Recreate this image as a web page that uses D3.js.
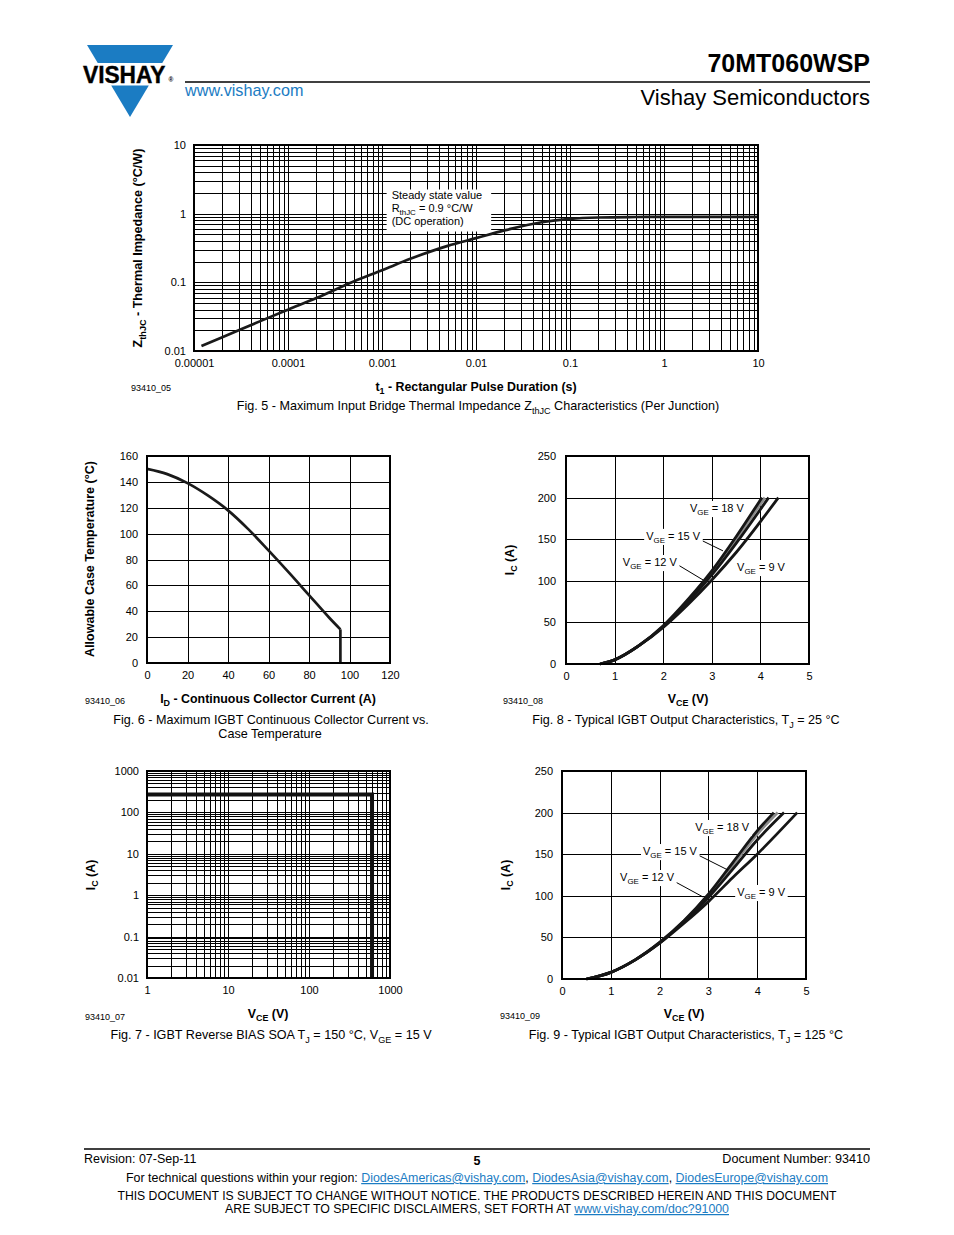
<!DOCTYPE html>
<html><head><meta charset="utf-8">
<script src="https://cdn.jsdelivr.net/npm/d3@7"></script>
<style>
body{margin:0;background:#fff}
svg{display:block;font-family:"Liberation Sans",Arial,Helvetica,sans-serif}
.grid line{stroke:#000;stroke-width:1;shape-rendering:crispEdges}
.grid path{display:none}
.ax path{display:none}
.ax text{font-size:11px;fill:#000;font-family:"Liberation Sans",Arial,sans-serif}
</style>
</head><body>
<svg id="page" width="954" height="1235"></svg>
<script>
// ---------------- DATA ----------------
// Fig 5 - thermal impedance
const fig5XTicks = [0.00001, 0.0001, 0.001, 0.01, 0.1, 1, 10];
const fig5XLabels = ["0.00001", "0.0001", "0.001", "0.01", "0.1", "1", "10"];
const fig5YTicks = [0.01, 0.1, 1, 10];
const fig5YLabels = ["0.01", "0.1", "1", "10"];
const zthPulse = [1.2e-5, 2e-5, 5e-5, 1e-4, 2e-4, 5e-4, 1e-3, 2e-3, 5e-3, 1e-2, 2e-2, 5e-2, 0.1, 0.2, 0.5, 1, 10];
const zthValue = [0.0118, 0.0158, 0.027, 0.04, 0.059, 0.103, 0.15, 0.22, 0.34, 0.44, 0.57, 0.75, 0.84, 0.88, 0.895, 0.9, 0.9];

// Fig 6 - case temperature vs current
const fig6XTicks = [0, 20, 40, 60, 80, 100, 120];
const fig6YTicks = [0, 20, 40, 60, 80, 100, 120, 140, 160];
const fig6Current = [0, 10, 20, 30, 40, 50, 60, 70, 80, 90, 95.5, 95.5];
const fig6Temp = [150, 146, 139, 129.5, 118, 103.5, 87, 70, 52.5, 35, 26, 0];

// Fig 7 - RBSOA
const fig7XTicks = [1, 10, 100, 1000];
const fig7XLabels = ["1", "10", "100", "1000"];
const fig7YTicks = [0.01, 0.1, 1, 10, 100, 1000];
const fig7YLabels = ["0.01", "0.1", "1", "10", "100", "1000"];
const soaVce = [1, 600, 600];
const soaIc = [270, 270, 0.01];

// Fig 8 / Fig 9 - output characteristics
const outXTicks = [0, 1, 2, 3, 4, 5];
const outYTicks = [0, 50, 100, 150, 200, 250];
const vgeLabels = ["18", "15", "12", "9"];
const fig8Vce = [
  [0.7, 1, 1.5, 2, 2.5, 3, 3.5, 4.03],
  [0.7, 1, 1.5, 2, 2.5, 3, 3.5, 4.09],
  [0.7, 1, 1.5, 2, 2.5, 3, 3.5, 4.17],
  [0.7, 1, 1.5, 2, 2.5, 3, 3.5, 4.37]
];
const fig8Ic = [
  [0, 5, 22, 46, 77, 112, 153, 200],
  [0, 5, 22, 45, 76, 110, 150, 200],
  [0, 5, 22, 45, 74, 107, 145, 200],
  [0, 5, 22, 44, 71, 101, 134, 200]
];
const fig9Vce = [
  [0.5, 1, 1.5, 2, 2.5, 3, 3.5, 4, 4.34],
  [0.5, 1, 1.5, 2, 2.5, 3, 3.5, 4, 4.42],
  [0.5, 1, 1.5, 2, 2.5, 3, 3.5, 4, 4.55],
  [0.5, 1, 1.5, 2, 2.5, 3, 3.5, 4, 4.82]
];
const fig9Ic = [
  [0, 8, 23, 44, 70, 102, 140, 178, 200],
  [0, 8, 23, 44, 70, 101, 137, 174, 200],
  [0, 8, 23, 43, 69, 98, 132, 167, 200],
  [0, 8, 23, 43, 67, 93, 122, 150, 200]
];
const curveColors = ["#161616", "#8c8c8c", "#161616", "#161616"];
// label anchors (data units): [Vce, Ic]
const fig8LabelPos = [[2.55, 187.5], [1.65, 154], [1.17, 122.6], [3.52, 116.6]];
const fig8Leaders = [null, [2.74, 150, 3.23, 136], [2.28, 120, 2.82, 101], null];
const fig9LabelPos = [[2.73, 182.7], [1.66, 153.8], [1.19, 122.6], [3.59, 104.6]];
const fig9Leaders = [null, [2.79, 149, 3.40, 131], [2.25, 119, 2.89, 98.6], null];

// ---------------- HELPERS ----------------
const svg = d3.select("#page");
const BLUE = "#1b7cc3";
const CAP = 12.6;

function rich(g, x, y, parts, size, opts = {}) {
  const t = g.append("text").attr("x", x).attr("y", y)
    .attr("font-size", size).attr("fill", opts.fill || "#000")
    .attr("font-weight", opts.bold ? "bold" : "normal")
    .attr("text-anchor", opts.anchor || "start");
  if (opts.transform) t.attr("transform", opts.transform);
  let shifted = false;
  const sh = size * (opts.shift || 0.28);
  parts.forEach(p => {
    if (typeof p === "string") {
      const ts = t.append("tspan").text(p);
      if (shifted) { ts.attr("dy", -sh); shifted = false; }
    } else {
      const ts = t.append("tspan").text(p.sub).attr("font-size", size * 0.72);
      if (!shifted) { ts.attr("dy", sh); shifted = true; }
    }
  });
  return t;
}
function plain(g, x, y, str, size, opts = {}) { return rich(g, x, y, [str], size, opts); }

function logGrid(lo, hi) {
  const v = [];
  for (let e = Math.round(Math.log10(lo)); e < Math.round(Math.log10(hi)); e++)
    for (let m = 1; m <= 9; m++) v.push(m * Math.pow(10, e));
  v.push(hi);
  return v;
}

function frame(g, x, y) {
  const [x0, x1] = x.range(), [y0, y1] = y.range();
  g.append("rect").attr("x", x0).attr("y", y1).attr("width", x1 - x0).attr("height", y0 - y1)
    .attr("fill", "none").attr("stroke", "#000").attr("stroke-width", 2);
}

function grids(g, x, y, xv, yv) {
  const [x0, x1] = x.range(), [y0, y1] = y.range();
  g.append("g").attr("class", "grid").attr("transform", `translate(0,${y0})`)
    .call(d3.axisBottom(x).tickValues(xv).tickSize(-(y0 - y1)).tickFormat(""));
  g.append("g").attr("class", "grid").attr("transform", `translate(${x0},0)`)
    .call(d3.axisLeft(y).tickValues(yv).tickSize(-(x1 - x0)).tickFormat(""));
}

function axes(g, x, y, xt, xl, yt, yl, ypad) {
  const [x0] = x.range(), [y0] = y.range();
  g.append("g").attr("class", "ax").attr("transform", `translate(0,${y0})`)
    .call(d3.axisBottom(x).tickValues(xt).tickSize(0).tickPadding(8).tickFormat((d, i) => xl[i]));
  g.append("g").attr("class", "ax").attr("transform", `translate(${x0},0)`)
    .call(d3.axisLeft(y).tickValues(yt).tickSize(0).tickPadding(ypad).tickFormat((d, i) => yl[i]));
}

function labelBox(g, x, y, parts, size) {
  const gg = g.append("g");
  const t = rich(gg, x, y, parts, size);
  const b = t.node().getBBox();
  gg.insert("rect", "text").attr("x", b.x - 2).attr("y", b.y - 1)
    .attr("width", b.width + 4).attr("height", b.height + 1).attr("fill", "#fff");
}

// ---------------- HEADER ----------------
const hdr = svg.append("g");
const hw = yy => 43 * (1 - (yy - 45) / 72);
hdr.append("path").attr("fill", BLUE)
  .attr("d", `M87,45 L173,45 L${130 + hw(63)},63 L${130 - hw(63)},63 Z`);
hdr.append("path").attr("fill", BLUE)
  .attr("d", `M${130 - hw(85.5)},85.5 L${130 + hw(85.5)},85.5 L130,117 Z`);
plain(hdr, 83, 83, "VISHAY", 24, { bold: true }).attr("textLength", 82.5).attr("lengthAdjust", "spacingAndGlyphs")
  .attr("stroke", "#000").attr("stroke-width", 0.4);
plain(hdr, 168.5, 82, "®", 6.5, { bold: true });
hdr.append("line").attr("x1", 185).attr("x2", 870).attr("y1", 82).attr("y2", 82).attr("stroke", "#000").attr("stroke-width", 1.6);
plain(hdr, 185, 96, "www.vishay.com", 16.2, { fill: BLUE });
plain(hdr, 870, 72, "70MT060WSP", 25, { bold: true, anchor: "end" });
plain(hdr, 870, 105, "Vishay Semiconductors", 22, { anchor: "end" });

// ---------------- FIG 5 ----------------
{
  const g = svg.append("g");
  const x = d3.scaleLog().domain([1e-5, 10]).range([194, 758]);
  const y = d3.scaleLog().domain([0.01, 10]).range([351, 145]);
  grids(g, x, y, logGrid(1e-5, 10), logGrid(0.01, 10));
  // annotation box
  const bx = x(0.00112), by = y(2.25);
  g.append("rect").attr("x", bx).attr("y", by).attr("width", x(0.0145) - bx).attr("height", y(0.55) - by).attr("fill", "#fff");
  plain(g, bx + 5, by + 10, "Steady state value", 11);
  rich(g, bx + 5, by + 23, ["R", { sub: "thJC" }, " = 0.9 °C/W"], 11, { shift: 0.2 });
  plain(g, bx + 5, by + 36, "(DC operation)", 11);
  const line = d3.line().x((d, i) => x(zthPulse[i])).y(d => y(d)).curve(d3.curveMonotoneX);
  g.append("path").attr("d", line(zthValue)).attr("fill", "none").attr("stroke", "#1a1a1a").attr("stroke-width", 2.7);
  frame(g, x, y);
  axes(g, x, y, fig5XTicks, fig5XLabels, fig5YTicks, fig5YLabels, 8);
  rich(g, 142, 248, ["Z", { sub: "thJC" }, " - Thermal Impedance (°C/W)"], 12.6, { bold: true, anchor: "middle", transform: "rotate(-90,142,248)" });
  rich(g, 476, 391, ["t", { sub: "1" }, " - Rectangular Pulse Duration (s)"], 12.4, { bold: true, anchor: "middle" });
  plain(g, 131, 391, "93410_05", 9);
  rich(g, 478, 410, ["Fig. 5 - Maximum Input Bridge Thermal Impedance Z", { sub: "thJC" }, " Characteristics (Per Junction)"], CAP, { anchor: "middle" });
}

// ---------------- FIG 6 ----------------
{
  const g = svg.append("g");
  const x = d3.scaleLinear().domain([0, 120]).range([147, 390]);
  const y = d3.scaleLinear().domain([0, 160]).range([663, 456]);
  grids(g, x, y, fig6XTicks, fig6YTicks);
  const pts = fig6Current.map((c, i) => [c, fig6Temp[i]]);
  const curvePts = pts.slice(0, pts.length - 1);
  const line = d3.line().x(d => x(d[0])).y(d => y(d[1])).curve(d3.curveMonotoneX);
  g.append("path").attr("d", line(curvePts)).attr("fill", "none").attr("stroke", "#1a1a1a").attr("stroke-width", 2.7);
  g.append("path").attr("d", d3.line().x(d => x(d[0])).y(d => y(d[1]))(pts.slice(-2))).attr("fill", "none").attr("stroke", "#1a1a1a").attr("stroke-width", 2.7);
  frame(g, x, y);
  axes(g, x, y, fig6XTicks, fig6XTicks.map(String), fig6YTicks, fig6YTicks.map(String), 9);
  plain(g, 94, 559, "Allowable Case Temperature (°C)", 12.5, { bold: true, anchor: "middle", transform: "rotate(-90,94,559)" });
  rich(g, 268, 703, ["I", { sub: "D" }, " - Continuous Collector Current (A)"], 12.4, { bold: true, anchor: "middle" });
  plain(g, 85, 704, "93410_06", 9);
  plain(g, 271, 724, "Fig. 6 - Maximum IGBT Continuous Collector  Current vs.", CAP, { anchor: "middle" });
  plain(g, 270, 738, "Case Temperature", CAP, { anchor: "middle" });
}

// ---------------- FIG 7 ----------------
{
  const g = svg.append("g");
  const x = d3.scaleLog().domain([1, 1000]).range([147, 390]);
  const y = d3.scaleLog().domain([0.01, 1000]).range([978, 771]);
  grids(g, x, y, logGrid(1, 1000), logGrid(0.01, 1000));
  const line = d3.line().x((d, i) => x(soaVce[i])).y(d => y(d));
  g.append("path").attr("d", line(soaIc)).attr("fill", "none").attr("stroke", "#111").attr("stroke-width", 4);
  frame(g, x, y);
  axes(g, x, y, fig7XTicks, fig7XLabels, fig7YTicks, fig7YLabels, 8);
  rich(g, 95, 875, ["I", { sub: "C" }, " (A)"], 12.4, { bold: true, anchor: "middle", transform: "rotate(-90,95,875)" });
  rich(g, 268, 1018, ["V", { sub: "CE" }, " (V)"], 12.4, { bold: true, anchor: "middle" });
  plain(g, 85, 1020, "93410_07", 9);
  rich(g, 271, 1039, ["Fig. 7 - IGBT  Reverse BIAS SOA T", { sub: "J" }, " = 150 °C, V", { sub: "GE" }, " = 15 V"], CAP, { anchor: "middle" });
}

// ---------------- FIG 8 / 9 ----------------
function outputChart(xr, yr, vce, ic, labelPos, leaders, yTitleX, xTitleX, baseY, id, idX, caption, ypad) {
  const g = svg.append("g");
  const x = d3.scaleLinear().domain([0, 5]).range(xr);
  const y = d3.scaleLinear().domain([0, 250]).range(yr);
  grids(g, x, y, outXTicks, outYTicks);
  const line = d3.line().x(d => x(d[0])).y(d => y(d[1])).curve(d3.curveMonotoneX);
  [1, 3, 2, 0].forEach(k => {
    const pts = vce[k].map((v, i) => [v, ic[k][i]]);
    g.append("path").attr("d", line(pts)).attr("fill", "none").attr("stroke", curveColors[k]).attr("stroke-width", 2.8);
  });
  leaders.forEach(l => {
    if (!l) return;
    g.append("line").attr("x1", x(l[0])).attr("y1", y(l[1])).attr("x2", x(l[2])).attr("y2", y(l[3]))
      .attr("stroke", "#000").attr("stroke-width", 1);
  });
  labelPos.forEach((p, k) => {
    labelBox(g, x(p[0]), y(p[1]) + 4, ["V", { sub: "GE" }, ` = ${vgeLabels[k]} V`], 11);
  });
  frame(g, x, y);
  axes(g, x, y, outXTicks, outXTicks.map(String), outYTicks, outYTicks.map(String), ypad);
  const yc = (yr[0] + yr[1]) / 2;
  rich(g, yTitleX, yc, ["I", { sub: "C" }, " (A)"], 12.4, { bold: true, anchor: "middle", transform: `rotate(-90,${yTitleX},${yc})` });
  rich(g, xTitleX, baseY, ["V", { sub: "CE" }, " (V)"], 12.4, { bold: true, anchor: "middle" });
  plain(g, idX, baseY + 1, id, 9);
  rich(g, 686, baseY + 21, caption, CAP, { anchor: "middle" });
}
outputChart([566, 809], [664, 456], fig8Vce, fig8Ic, fig8LabelPos, fig8Leaders, 514, 688, 703, "93410_08", 503,
  ["Fig. 8 - Typical IGBT Output Characteristics, T", { sub: "J" }, " = 25 °C"], 10);
outputChart([562, 806], [979, 771], fig9Vce, fig9Ic, fig9LabelPos, fig9Leaders, 510, 684, 1018, "93410_09", 500,
  ["Fig. 9 - Typical IGBT Output Characteristics, T", { sub: "J" }, " = 125 °C"], 9);

// ---------------- FOOTER ----------------
{
  const g = svg.append("g");
  g.append("line").attr("x1", 84).attr("x2", 870).attr("y1", 1149).attr("y2", 1149).attr("stroke", "#000").attr("stroke-width", 1.6);
  plain(g, 84, 1163, "Revision: 07-Sep-11", 12.5);
  plain(g, 477, 1165, "5", 12.5, { bold: true, anchor: "middle" });
  plain(g, 870, 1163, "Document Number: 93410", 12.6, { anchor: "end" });
  const t2 = g.append("text").attr("x", 477).attr("y", 1182).attr("font-size", 12.3).attr("text-anchor", "middle")
    .attr("textLength", 702).attr("lengthAdjust", "spacingAndGlyphs");
  t2.append("tspan").text("For technical questions within your region: ");
  t2.append("tspan").text("DiodesAmericas@vishay.com").attr("fill", BLUE).style("text-decoration", "underline");
  t2.append("tspan").text(", ");
  t2.append("tspan").text("DiodesAsia@vishay.com").attr("fill", BLUE).style("text-decoration", "underline");
  t2.append("tspan").text(", ");
  t2.append("tspan").text("DiodesEurope@vishay.com").attr("fill", BLUE).style("text-decoration", "underline");
  plain(g, 477, 1200, "THIS DOCUMENT IS SUBJECT TO CHANGE WITHOUT NOTICE. THE PRODUCTS DESCRIBED HEREIN AND THIS DOCUMENT", 12.3, { anchor: "middle" })
    .attr("textLength", 719).attr("lengthAdjust", "spacingAndGlyphs");
  const t4 = g.append("text").attr("x", 477).attr("y", 1213).attr("font-size", 12.3).attr("text-anchor", "middle")
    .attr("textLength", 504).attr("lengthAdjust", "spacingAndGlyphs");
  t4.append("tspan").text("ARE SUBJECT TO SPECIFIC DISCLAIMERS, SET FORTH AT ");
  t4.append("tspan").text("www.vishay.com/doc?91000").attr("fill", BLUE).style("text-decoration", "underline");
}
</script>
</body></html>
